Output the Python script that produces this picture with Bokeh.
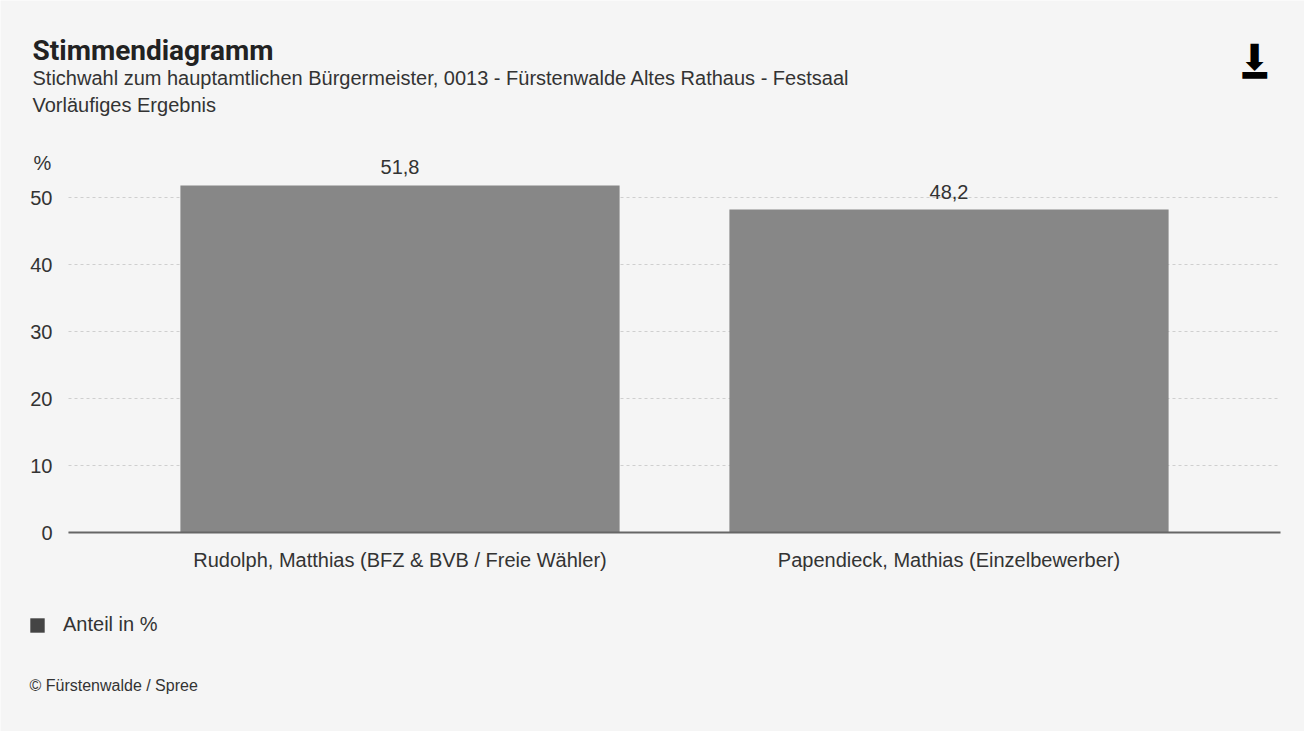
from bokeh.plotting import figure
from bokeh.models import ColumnDataSource, Label, LabelSet, FixedTicker, Legend, LegendItem, Range1d
from bokeh.embed import file_html
from bokeh.resources import INLINE
from bokeh.core.properties import value

# ---- data ----
candidates = ["Rudolph, Matthias (BFZ & BVB / Freie Wähler)", "Papendieck, Mathias (Einzelbewerber)"]
shares = [51.8, 48.2]
y_ticks = [0, 10, 20, 30, 40, 50]
title_text = "Stimmendiagramm"
subtitle_text = "Stichwahl zum hauptamtlichen Bürgermeister, 0013 - Fürstenwalde Altes Rathaus - Festsaal"
status_text = "Vorläufiges Ergebnis"
legend_text = "Anteil in %"
credit_text = "© Fürstenwalde / Spree"

BG = "#f5f5f5"
BAR = "#878787"
FONT = "Liberation Sans"
W, H = 1304, 731

# scales: category spacing 549px, 6.7px per percent, baseline at 532px from top
PX_X, PX_Y = 549.0, 6.7
x0_px, y0_px = 399.5, 532.0
x_left = -x0_px / PX_X
x_right = 1 + (W - x0_px - PX_X) / PX_X
y_top = y0_px / PX_Y
y_bot = -(H - y0_px) / PX_Y
plot_l = (68 - x0_px) / PX_X
plot_r = 1 + (1280 - x0_px - PX_X) / PX_X

xs = list(range(len(candidates)))
labels = [f"{v:.1f}".replace(".", ",") for v in shares]
src = ColumnDataSource(dict(x=xs, top=shares, lab=labels))

p = figure(width=W, height=H, output_backend="svg", toolbar_location=None,
           x_range=Range1d(x_left, x_right), y_range=Range1d(y_bot, y_top),
           min_border_left=0, min_border_right=0, min_border_top=0, min_border_bottom=0)
p.background_fill_color = BG
p.border_fill_color = BG
p.outline_line_color = None

bars = p.vbar(x="x", top="top", bottom=0, width=0.8, source=src, fill_color=BAR, line_color=None)

p.add_layout(LabelSet(x="x", y="top", text="lab", source=src, text_align="center",
                      text_baseline="middle", y_offset=18, text_font=value(FONT),
                      text_font_size="20px", text_color="#333333"))

# axes
p.xaxis.fixed_location = 0
p.xaxis.bounds = (plot_l, plot_r)
p.xaxis.ticker = FixedTicker(ticks=xs)
p.xaxis.major_label_overrides = {i: c for i, c in zip(xs, candidates)}
p.xaxis.axis_line_color = "#666666"
p.xaxis.axis_line_width = 2
p.xaxis.major_tick_line_color = None
p.xaxis.major_tick_out = 0
p.xaxis.major_tick_in = 0
p.xaxis.minor_tick_line_color = None
p.xaxis.major_label_standoff = 16
p.xaxis.major_label_text_font = FONT
p.xaxis.major_label_text_font_size = "20px"
p.xaxis.major_label_text_color = "#333333"

p.yaxis.fixed_location = plot_l
p.yaxis.ticker = FixedTicker(ticks=y_ticks)
p.yaxis.axis_line_color = None
p.yaxis.major_tick_line_color = None
p.yaxis.major_tick_out = 0
p.yaxis.major_tick_in = 0
p.yaxis.minor_tick_line_color = None
p.yaxis.major_label_standoff = 16
p.yaxis.major_label_text_font = FONT
p.yaxis.major_label_text_font_size = "20px"
p.yaxis.major_label_text_color = "#333333"

p.xgrid.grid_line_color = None
p.ygrid.grid_line_color = "#cfcfcf"
p.ygrid.grid_line_dash = "3 3"
p.ygrid.grid_line_width = 1
p.ygrid.cross_bounds = (plot_l, plot_r)

# legend with dark square (series swatch; NaN row so nothing is drawn in the plot)
swatch_src = ColumnDataSource(dict(x=[float("nan")], top=[float("nan")]))
dummy = p.vbar(x="x", top="top", width=0.8, source=swatch_src, fill_color="#444444", line_color=None)
leg = Legend(items=[LegendItem(label=legend_text, renderers=[dummy])],
             location=(28, H - 636), glyph_width=18, glyph_height=18, label_standoff=17,
             padding=0, spacing=0, border_line_color=None, background_fill_alpha=0,
             label_text_font=FONT, label_text_font_size="20px", label_text_color="#333333")
p.add_layout(leg, "center")

# texts (screen units from bottom-left of canvas)
def lab(text, x, y_from_top, size, bold=False, font=FONT, align="left", color="#333333"):
    p.add_layout(Label(x=x, y=H - y_from_top, x_units="screen", y_units="screen", text=text,
                       text_font=font, text_font_size=size, text_align=align,
                       text_baseline="middle", text_color=color,
                       text_font_style="bold" if bold else "normal"))

lab(title_text, 32, 50, "28px", bold=True, font="Roboto", color="#222222")
lab(subtitle_text, 32, 77, "20px")
lab(status_text, 32, 104, "20px")
lab("%", 42, 162, "20px", align="center")
lab(credit_text, 29, 685, "16px")
# download icon
lab("⬇", 1254, 57, "36px", font="DejaVu Sans", align="center", color="#000000")
lab("━", 1254, 74, "40px", font="DejaVu Sans", align="center", color="#000000")

open("out.html", "w").write(file_html(p, INLINE))
